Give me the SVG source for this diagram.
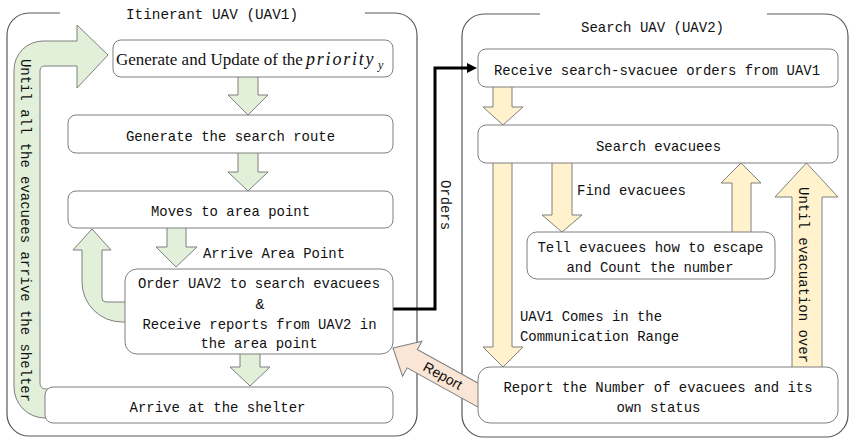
<svg xmlns="http://www.w3.org/2000/svg" width="849" height="438" viewBox="0 0 849 438">
<defs>
<style>
.cont{fill:none;stroke:#595959;stroke-width:1.2}
.node{fill:#ffffff;stroke:#7f7f7f;stroke-width:1}
.g{fill:#e2f0d9;stroke:#7f7f7f;stroke-width:1}
.y{fill:#fff2cc;stroke:#7f7f7f;stroke-width:1}
.p{fill:#fbe5d6;stroke:#7f7f7f;stroke-width:1}
.t{font-family:"Liberation Mono","DejaVu Sans Mono",monospace;font-size:15px;fill:#111111}
.m{text-anchor:middle}
.wire{fill:none;stroke:#000000;stroke-width:3}
</style>
<marker id="ah" viewBox="0 0 10 10" refX="2" refY="5" markerWidth="10" markerHeight="10" markerUnits="userSpaceOnUse" orient="auto">
<path d="M0,0 L10,5 L0,10 Z" fill="#000000"/>
</marker>
</defs>
<rect width="849" height="438" fill="#ffffff"/>

<g id="containers">
<path class="cont" d="M60,13 L29,13 A22,22 0 0 0 7,35 L7,414 A22,22 0 0 0 29,436 L395,436 A22,22 0 0 0 417,414 L417,35 A22,22 0 0 0 395,13 L365,13"/>
<text class="t m" x="212" y="19" textLength="172" lengthAdjust="spacingAndGlyphs">Itinerant UAV (UAV1)</text>
<path class="cont" d="M540,14 L484,14 A22,22 0 0 0 462,36 L462,415 A22,22 0 0 0 484,437 L826,437 A22,22 0 0 0 848,415 L848,36 A22,22 0 0 0 826,14 L767,14"/>
<text class="t m" x="652.5" y="32" textLength="143" lengthAdjust="spacingAndGlyphs">Search UAV (UAV2)</text>
</g>

<g id="connectors">
<path class="g" d="M50,418 L45,418 A31,31 0 0 1 14,387 L14,70 A29,29 0 0 1 43,41 L77,41 L77,25 L108,55 L77,88 L77,66 L45,66 Q40,66 40,71 L40,383 Q40,389 46,389 L50,389 Z"/>
<text class="t m" transform="translate(21,230.5) rotate(90)" x="0" y="0" textLength="343" lengthAdjust="spacingAndGlyphs">Until all the evacuees arrive the shelter</text>
<path class="g" d="M238,76 L258,76 L258,95 L268,95 L248,115 L228,95 L238,95 Z"/>
<path class="g" d="M238,152 L258,152 L258,172 L268,172 L248,191 L228,172 L238,172 Z"/>
<path class="g" d="M167,227 L186,227 L186,247 L197,247 L176,267 L156,247 L167,247 Z"/>
<text class="t" x="203" y="258" textLength="142" lengthAdjust="spacingAndGlyphs">Arrive Area Point</text>
<path class="g" d="M130,302 L106,302 Q102,302 102,298 L102,250 L111,250 L92,229 L73,250 L82,250 L82,282 A40,40 0 0 0 122,322 L130,322 Z"/>
<path class="g" d="M240,353 L260,353 L260,367 L270,367 L250,386 L230,367 L240,367 Z"/>

<polyline class="wire" points="393,309 435,309 435,68 469,68" marker-end="url(#ah)"/>
<text class="t m" transform="translate(441,205) rotate(90)" x="0" y="0" textLength="50" lengthAdjust="spacingAndGlyphs">Orders</text>

<g transform="translate(393,348) rotate(29)">
<path class="p" d="M0,0 L22,-20 L22,-10.5 L115,-10.5 L115,10.5 L22,10.5 L22,20 Z"/>
<text x="57" y="5" text-anchor="middle" font-family="Liberation Sans, Arial, sans-serif" font-size="14" fill="#111111">Report</text>
</g>

<path class="y" d="M493,86 L512,86 L512,107 L523,107 L503,125 L483,107 L493,107 Z"/>
<path class="y" d="M493,162 L512,162 L512,347 L523,347 L503,367 L483,347 L493,347 Z"/>
<text class="t" x="520" y="321" textLength="142" lengthAdjust="spacingAndGlyphs">UAV1 Comes in the</text>
<text class="t" x="520" y="341" textLength="159" lengthAdjust="spacingAndGlyphs">Communication Range</text>
<path class="y" d="M552,162 L572,162 L572,215 L582,215 L562,232 L542,215 L552,215 Z"/>
<text class="t" x="577" y="195" textLength="109" lengthAdjust="spacingAndGlyphs">Find evacuees</text>
<path class="y" d="M732,233 L751,233 L751,183 L761,183 L741,163 L721,183 L732,183 Z"/>
<path class="y" d="M792,368 L822,368 L822,197 L838,197 L806.5,163 L775,197 L792,197 Z"/>
<text class="t m" transform="translate(799,275) rotate(90)" x="0" y="0" textLength="176" lengthAdjust="spacingAndGlyphs">Until evacuation over</text>
</g>

<g id="n-priority">
<rect class="node" x="113" y="40" width="280" height="37" rx="8"/>
<text x="116" y="65" font-family="Liberation Serif, Times New Roman, serif" font-size="17" fill="#111111">Generate and Update of the <tspan x="306" font-style="italic" font-size="18" letter-spacing="1.8">priority</tspan><tspan x="378" dy="4" font-style="italic" font-size="12">y</tspan></text>
</g>
<g id="n-route">
<rect class="node" x="68" y="115" width="325" height="38" rx="8"/>
<text class="t m" x="230.5" y="141" textLength="209" lengthAdjust="spacingAndGlyphs">Generate the search route</text>
</g>
<g id="n-moves">
<rect class="node" x="68" y="191" width="325" height="37" rx="8"/>
<text class="t m" x="230.5" y="216" textLength="159" lengthAdjust="spacingAndGlyphs">Moves to area point</text>
</g>
<g id="n-order">
<rect class="node" x="125" y="269" width="268" height="85" rx="12"/>
<text class="t m" x="259" y="288" textLength="242" lengthAdjust="spacingAndGlyphs">Order UAV2 to search evacuees</text>
<text class="t m" x="260" y="309">&amp;</text>
<text class="t m" x="259.5" y="329" textLength="234" lengthAdjust="spacingAndGlyphs">Receive reports from UAV2 in</text>
<text class="t m" x="259" y="348" textLength="117" lengthAdjust="spacingAndGlyphs">the area point</text>
</g>
<g id="n-shelter">
<rect class="node" x="45" y="387" width="348" height="36" rx="8"/>
<text class="t m" x="217.5" y="412" textLength="176" lengthAdjust="spacingAndGlyphs">Arrive at the shelter</text>
</g>

<g id="n-receive">
<rect class="node" x="478" y="49" width="360" height="38" rx="8"/>
<text class="t m" x="657" y="75" textLength="326" lengthAdjust="spacingAndGlyphs">Receive search-svacuee orders from UAV1</text>
</g>
<g id="n-search">
<rect class="node" x="478" y="125" width="360" height="38" rx="8"/>
<text class="t m" x="658.5" y="151" textLength="125" lengthAdjust="spacingAndGlyphs">Search evacuees</text>
</g>
<g id="n-tell">
<rect class="node" x="527" y="232" width="248" height="47" rx="10"/>
<text class="t m" x="650.5" y="252" textLength="226" lengthAdjust="spacingAndGlyphs">Tell evacuees how to escape</text>
<text class="t m" x="650" y="272" textLength="167" lengthAdjust="spacingAndGlyphs">and Count the number</text>
</g>
<g id="n-report">
<rect class="node" x="478" y="367" width="360" height="56" rx="12"/>
<text class="t m" x="658" y="392" textLength="309" lengthAdjust="spacingAndGlyphs">Report the Number of evacuees and its</text>
<text class="t m" x="658.5" y="412" textLength="84" lengthAdjust="spacingAndGlyphs">own status</text>
</g>
</svg>
